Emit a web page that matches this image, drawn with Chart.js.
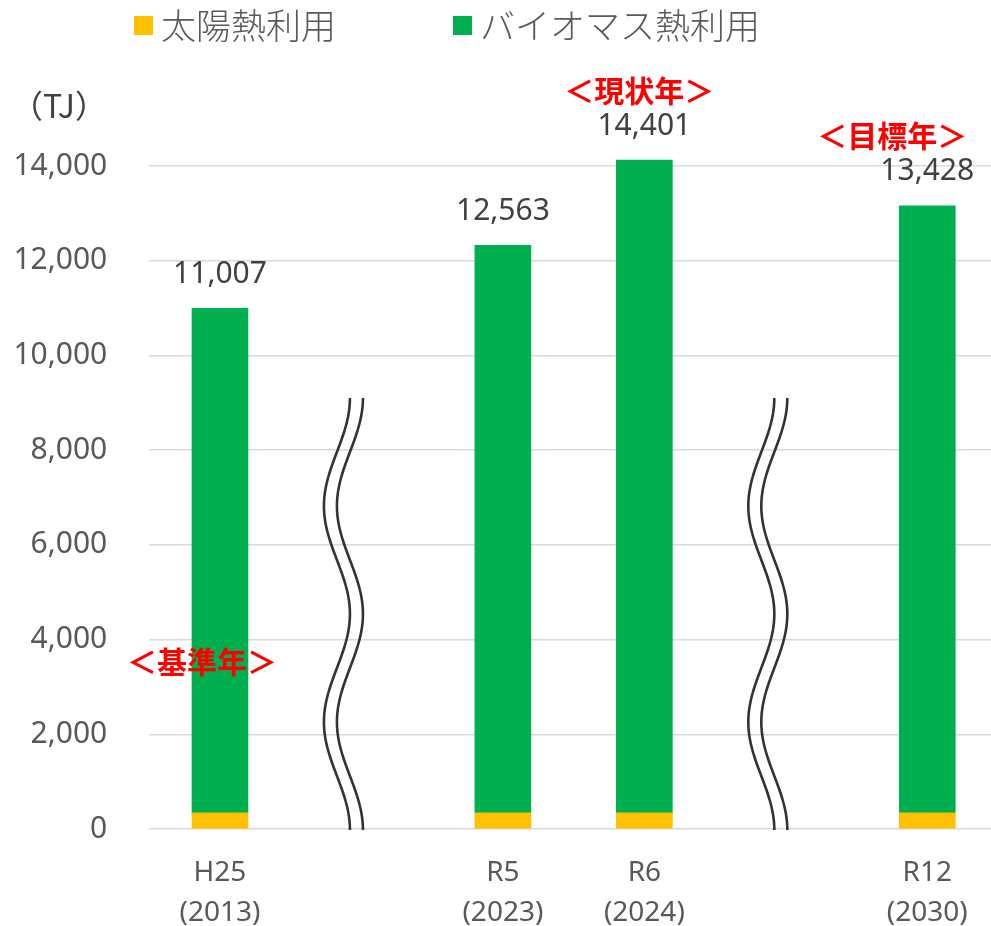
<!DOCTYPE html>
<html>
<head>
<meta charset="utf-8">
<script src="https://cdn.jsdelivr.net/npm/chart.js@4/dist/chart.umd.min.js"></script>
<style>
  html, body { margin: 0; padding: 0; background: #ffffff; overflow: hidden; }
  #wrap { width: 998px; height: 926px; position: relative; }
</style>
</head>
<body>
<div id="wrap"><canvas id="c"></canvas></div>
<script>
// ---- data ----
const categories = [['H25', '(2013)'], '', ['R5', '(2023)'], ['R6', '(2024)'], '', ['R12', '(2030)']];
const seriesNames = ['太陽熱利用', 'バイオマス熱利用'];
const solarValues = [340, null, 340, 340, null, 340];
const biomassValues = [10655, null, 11985, 13786, null, 12821];
const totalLabels = ['11,007', null, '12,563', '14,401', null, '13,428'];
const yTickMin = 0;
const yTickMax = 14000;
const yTickStep = 2000;
const markerTexts = ['＜基準年＞', '＜現状年＞', '＜目標年＞'];
const markerCategories = [0, 3, 5];
const breakCategories = [1, 4];
const unitLabel = '（TJ）';

const colors = { solar: '#FFC000', biomass: '#00B050' };
const NUM_FONT = '"Noto Sans", "Open Sans", sans-serif';
const JP_FONT = '"Noto Sans CJK JP", "Noto Sans", sans-serif';

const decorPlugin = {
  id: 'decor',
  afterDatasetsDraw(chart) {
    const ctx = chart.ctx;
    const x = chart.scales.x;
    // total labels above bars
    const topMeta = chart.getDatasetMeta(1);
    ctx.save();
    ctx.font = '30px ' + NUM_FONT;
    ctx.fillStyle = '#404040';
    ctx.textAlign = 'center';
    ctx.textBaseline = 'middle';
    totalLabels.forEach((t, i) => {
      if (!t) return;
      const el = topMeta.data[i];
      ctx.fillText(t, el.x, el.y - 34);
    });
    ctx.restore();

    // wavy break marks
    ctx.save();
    ctx.strokeStyle = '#333333';
    ctx.lineWidth = 2.6;
    breakCategories.forEach(ci => {
      const cx = x.getPixelForValue(ci) - 18;
      const yTop = 398, yBot = 831;
      [-6.5, 6.5].forEach(off => {
        ctx.beginPath();
        for (let yy = yTop; yy <= yBot; yy += 2) {
          const xx = cx + off + 13 * Math.cos(2 * Math.PI * (yy - yTop) / 216);
          if (yy === yTop) ctx.moveTo(xx, yy); else ctx.lineTo(xx, yy);
        }
        ctx.stroke();
      });
    });
    ctx.restore();

    // red marker texts
    ctx.save();
    ctx.font = 'bold 30px ' + JP_FONT;
    ctx.fillStyle = '#FF0000';
    ctx.textAlign = 'center';
    ctx.textBaseline = 'middle';
    const markerPos = [
      { dx: -18, y: 662 },
      { dx: -5, y: 91 },
      { dx: -35, y: 136 }
    ];
    markerTexts.forEach((t, k) => {
      const cx = x.getPixelForValue(markerCategories[k]) + markerPos[k].dx;
      ctx.fillText(t, cx, markerPos[k].y);
    });
    ctx.restore();

    // legend
    ctx.save();
    ctx.font = '300 35px ' + JP_FONT;
    ctx.textBaseline = 'middle';
    ctx.textAlign = 'left';
    const leg = [
      { x: 134, color: colors.solar, text: seriesNames[0] },
      { x: 453, color: colors.biomass, text: seriesNames[1] }
    ];
    leg.forEach(l => {
      ctx.fillStyle = l.color;
      ctx.fillRect(l.x, 16, 19, 19);
      ctx.fillStyle = '#595959';
      ctx.fillText(l.text, l.x + 27, 26);
    });
    ctx.restore();

    // unit label
    ctx.save();
    ctx.font = '32px ' + JP_FONT;
    ctx.fillStyle = '#404040';
    ctx.textAlign = 'center';
    ctx.textBaseline = 'middle';
    ctx.fillText(unitLabel, 59, 106);
    ctx.restore();
  }
};

new Chart(document.getElementById('c'), {
  type: 'bar',
  data: {
    labels: categories,
    datasets: [
      { label: seriesNames[0], data: solarValues, backgroundColor: colors.solar, barThickness: 56, borderWidth: 0, clip: false },
      { label: seriesNames[1], data: biomassValues, backgroundColor: colors.biomass, barThickness: 56, borderWidth: 0, clip: false }
    ]
  },
  options: {
    responsive: true,
    maintainAspectRatio: false,
    animation: false,
    layout: { padding: { top: 166, right: 0, bottom: 0, left: 0 } },
    plugins: {
      legend: { display: false },
      tooltip: { enabled: false },
      title: { display: false }
    },
    scales: {
      x: {
        stacked: true,
        offset: true,
        grid: { display: false, drawTicks: false },
        border: { display: false },
        ticks: {
          autoSkip: false,
          maxRotation: 0,
          padding: 24,
          color: '#595959',
          font: { family: NUM_FONT, size: 28, lineHeight: 40 / 28 }
        },
        afterFit(s) { s.height = 97; }
      },
      y: {
        stacked: true,
        min: yTickMin,
        max: yTickMax,
        grid: { color: '#d9d9d9', lineWidth: 1.5, drawTicks: false },
        border: { display: false },
        ticks: {
          stepSize: yTickStep,
          padding: 42,
          color: '#595959',
          font: { family: NUM_FONT, size: 30 },
          callback: v => v.toLocaleString('en-US')
        },
        afterFit(s) { s.width = 149.25; }
      }
    }
  },
  plugins: [decorPlugin]
});
</script>
</body>
</html>
